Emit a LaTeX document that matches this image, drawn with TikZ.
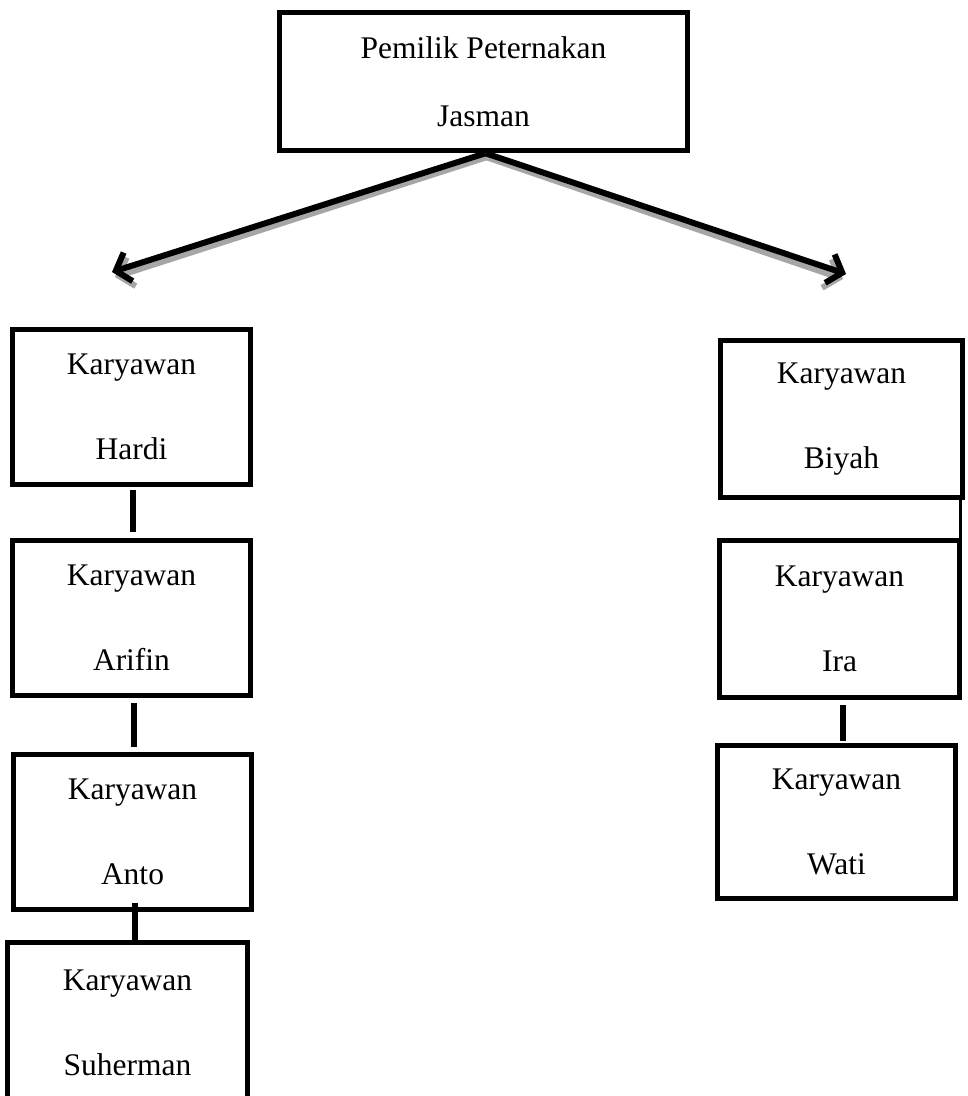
\documentclass[tikz,border=0pt]{standalone}
\usepackage{fontspec}
\setmainfont{Liberation Serif}
\usetikzlibrary{arrows.meta,calc}
\tikzset{
  box/.style={draw=black, line width=5.5pt, rectangle, inner sep=0pt, align=center,
    font=\fontsize{31.5}{85}\selectfont},
  topbox/.style={box, font=\fontsize{31.5}{68}\selectfont},
  link/.style={draw=black, line width=5.5pt},
  thinlink/.style={draw=black, line width=3.5pt},
  shadowline/.style={draw=black!35, line width=6pt, -{Straight Barb[length=13pt,width=30pt,line width=6pt]}},
  arrowline/.style={draw=black, line width=6pt, -{Straight Barb[length=13pt,width=30pt,line width=6pt]}},
}
\begin{document}
\begin{tikzpicture}[x=1pt,y=-1pt]
\useasboundingbox (0,0) rectangle (968,1096);
\clip (0,0) rectangle (968,1096);
% top
\node[topbox, minimum width=408, minimum height=138] (top) at (483.5,81.5) {Pemilik Peternakan\\Jasman};
% left column
\node[box, minimum width=238, minimum height=155] (hardi) at (131.5,407) {Karyawan\\Hardi};
\node[box, minimum width=238, minimum height=155] (arifin) at (131.5,618) {Karyawan\\Arifin};
\node[box, minimum width=238, minimum height=155] (anto) at (132.5,832) {Karyawan\\Anto};
\node[box, minimum width=240, minimum height=160] (suherman) at (127.5,1022.5) {Karyawan\\Suherman};
% right column
\node[box, minimum width=242, minimum height=157] (biyah) at (841.5,419) {Karyawan\\Biyah};
\node[box, minimum width=240, minimum height=157] (ira) at (839.5,619) {Karyawan\\Ira};
\node[box, minimum width=238, minimum height=153] (wati) at (836.5,822) {Karyawan\\Wati};
% arrow targets
\coordinate (lt) at (112,272);
\coordinate (rt) at (846,274);
% arrows with shadow
\draw[shadowline] ($(top.south)+(3,4)$) -- ($(lt)+(3,5)$);
\draw[shadowline] ($(top.south)+(3,4)$) -- ($(rt)+(-3,5)$);
\draw[arrowline] ($(top.south)+(2,0)$) -- (lt);
\draw[arrowline] ($(top.south)+(2,0)$) -- (rt);
% connectors
\draw[link] ($(hardi.south)+(1.5,3)$) -- ($(arifin.north)+(1.5,-6)$);
\draw[link] ($(arifin.south)+(2.5,5)$) -- ($(anto.north)+(1.5,-5)$);
\draw[link] ($(anto.south)+(2.5,-9)$) -- ($(suherman.north)+(7.5,3)$);
\draw[thinlink] ($(biyah.south east)+(-5,0)$) -- ($(ira.north east)+(-2,0)$);
\draw[link] ($(ira.south)+(3.5,5)$) -- ($(wati.north)+(6.5,-2)$);
\end{tikzpicture}
\end{document}
